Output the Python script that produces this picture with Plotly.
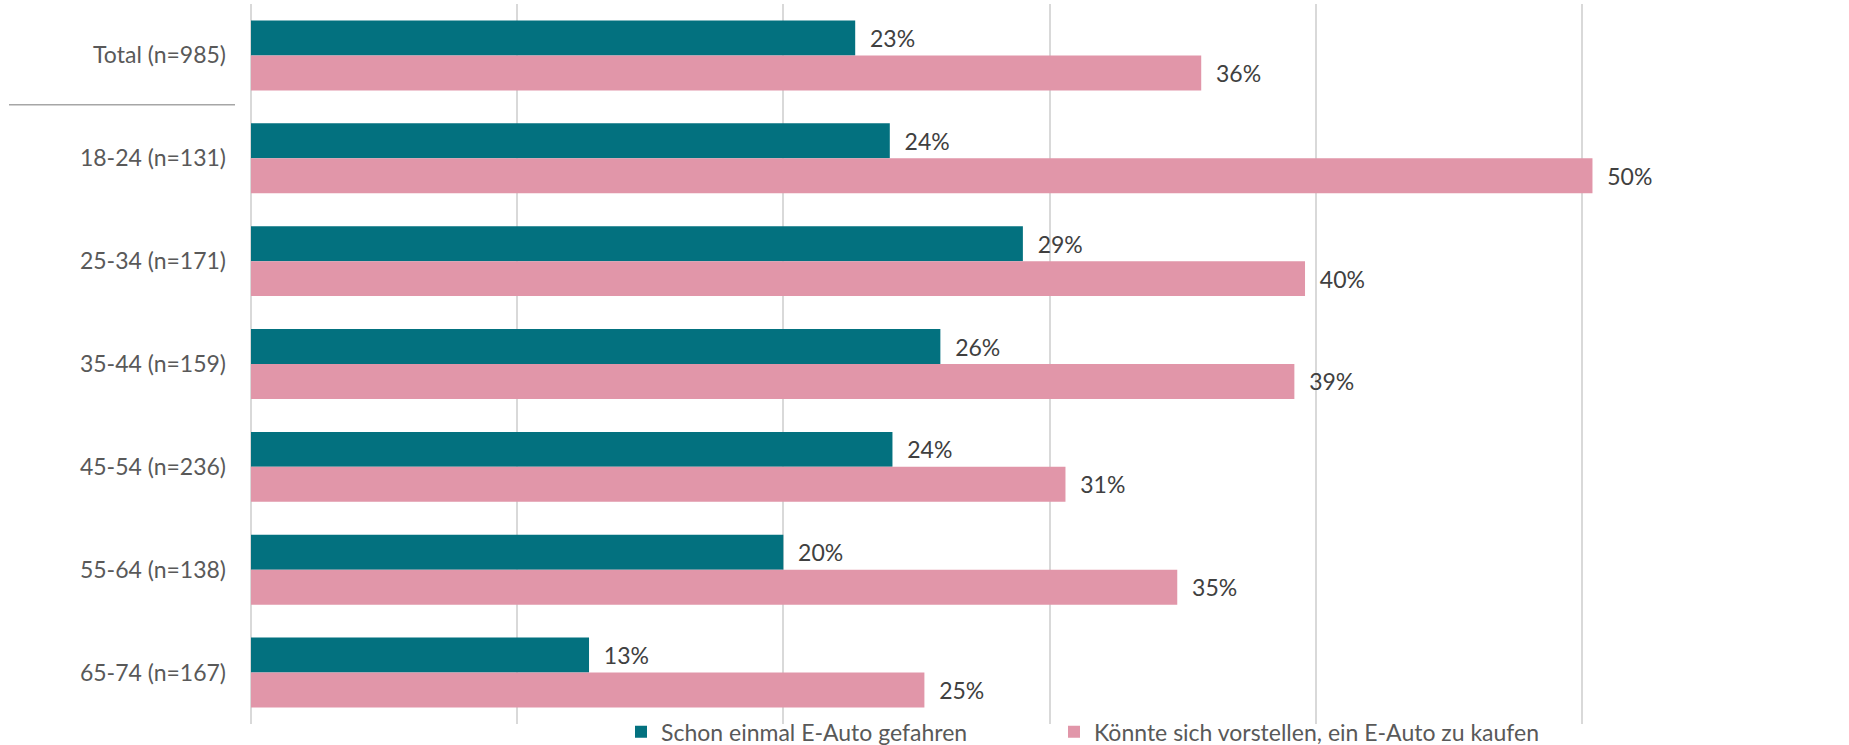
import plotly.graph_objects as go

categories = ["Total (n=985)", "18-24 (n=131)", "25-34 (n=171)", "35-44 (n=159)",
              "45-54 (n=236)", "55-64 (n=138)", "65-74 (n=167)"]
series_names = ["Schon einmal E-Auto gefahren", "Könnte sich vorstellen, ein E-Auto zu kaufen"]
driven = [22.7, 24.0, 29.0, 25.9, 24.1, 20.0, 12.7]
could_buy = [35.7, 50.4, 39.6, 39.2, 30.6, 34.8, 25.3]

TEAL = "#03717F"
PINK = "#E196A9"
FONT = "Lato, 'Source Sans Pro', sans-serif"
FS = 23

W, H = 1849, 745
ML, MR, MT, MB = 251, 1, 4, 21
PW = W - ML - MR

fig = go.Figure()
for name, vals, col, leg in [(series_names[0], driven, TEAL, "legend"),
                             (series_names[1], could_buy, PINK, "legend2")]:
    fig.add_trace(go.Bar(
        y=categories, x=vals, name=name, orientation="h",
        marker=dict(color=col, line=dict(width=0)),
        texttemplate="\u00a0\u00a0%{x:.0f}%", textposition="outside",
        textfont=dict(family=FONT, size=FS, color="#404040"),
        cliponaxis=False, hoverinfo="skip", legend=leg,
    ))

legend_common = dict(orientation="h", xanchor="left", y=-0.011, yanchor="middle",
                     font=dict(family=FONT, size=FS, color="#595959"),
                     bgcolor="rgba(0,0,0,0)")

fig.update_layout(
    width=W, height=H,
    margin=dict(l=ML, r=MR, t=MT, b=MB, autoexpand=False),
    paper_bgcolor="white", plot_bgcolor="white",
    barmode="group", bargap=0.32, bargroupgap=0,
    font=dict(family=FONT, size=FS, color="#595959"),
    xaxis=dict(range=[0, 60], dtick=10, showticklabels=False, showgrid=True,
               gridcolor="#D9D9D9", gridwidth=1.5, zeroline=True,
               zerolinecolor="#D9D9D9", zerolinewidth=1.5, fixedrange=True),
    yaxis=dict(autorange="reversed", showgrid=False, ticklabelstandoff=24,
               tickfont=dict(family=FONT, size=FS, color="#595959"), fixedrange=True),
    legend=dict(x=(621 - ML) / PW, **legend_common),
    legend2=dict(x=(1054 - ML) / PW, **legend_common),
    showlegend=True,
)

fig.add_shape(type="line", xref="paper", yref="y",
              x0=(9 - ML) / PW, x1=(235 - ML) / PW,
              y0=0.48, y1=0.48, line=dict(color="#A6A6A6", width=1.5))

fig.write_html("out.html", config={"displayModeBar": False},
               post_script="document.body.style.margin='0';document.body.style.overflow='hidden';")
